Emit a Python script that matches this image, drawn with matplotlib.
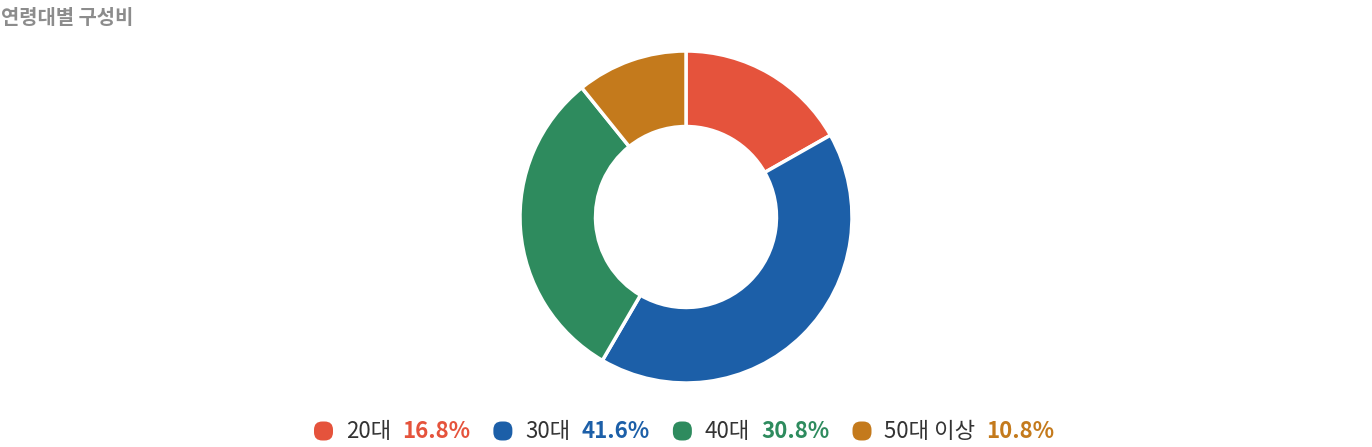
import matplotlib

matplotlib.use("Agg")
import matplotlib.pyplot as plt
from matplotlib.patches import FancyBboxPatch

plt.rcParams["font.family"] = ["Noto Sans CJK KR", "DejaVu Sans"]

title = "연령대별 구성비"
labels = ["20대", "30대", "40대", "50대 이상"]
shares = [16.8, 41.6, 30.8, 10.8]
colors = ["#E5533C", "#1C5FA8", "#2E8B5E", "#C47A1C"]

W, H = 1372, 447
fig = plt.figure(figsize=(W / 100, H / 100), dpi=100)

# donut: centre (686, 217) px from top, outer radius 165 px
cx, cy, r = 686, 217, 166
ax = fig.add_axes([(cx - r) / W, (H - cy - r) / H, 2 * r / W, 2 * r / H])
ax.pie(shares, colors=colors, startangle=90, counterclock=False,
       radius=1.0,
       wedgeprops=dict(width=0.455, edgecolor="white", linewidth=2.5))
ax.set_xlim(-1.0, 1.0)
ax.set_ylim(-1.0, 1.0)
ax.set_aspect("equal")
ax.axis("off")

fig.text(1 / W, 1 - 17 / H, title, fontsize=14.3, fontweight="bold",
         color="#8C8C8C", ha="left", va="center")

# legend row, laid out with measured text widths
renderer = fig.canvas.get_renderer()
x = 314
ly = 1 - 431 / H
box = 19
for lab, val, col in zip(labels, shares, colors):
    patch = FancyBboxPatch((x / W, ly - (box / 2) / H), box / W, box / H,
                           boxstyle="round,pad=0,rounding_size=0.006",
                           transform=fig.transFigure, facecolor=col,
                           edgecolor="none", mutation_aspect=W / H)
    fig.patches.append(patch)
    x += box + 13
    t = fig.text(x / W, ly, lab, fontsize=16, color="#333333",
                 ha="left", va="center")
    x += t.get_window_extent(renderer).width + 11
    t = fig.text(x / W, ly, f"{val:.1f}%", fontsize=16, fontweight="bold",
                 color=col, ha="left", va="center")
    x += t.get_window_extent(renderer).width + 23

fig.savefig("out.png", dpi=100)
